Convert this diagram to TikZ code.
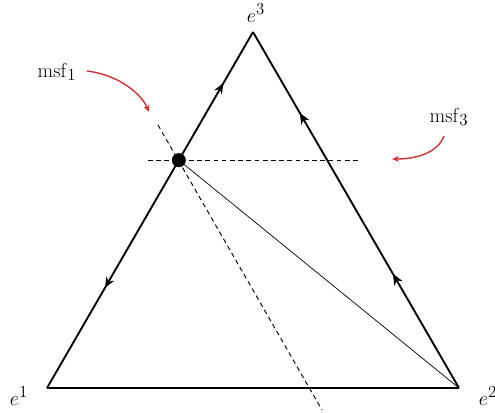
\documentclass[tikz,border=0pt]{standalone}
\usetikzlibrary{arrows.meta,decorations.markings,calc}
\definecolor{msfred}{RGB}{205,50,55}
\begin{document}
\begin{tikzpicture}[x=0.03cm,y=-0.03cm,
  edge/.style={line width=1.6pt},
  midarrow/.style={postaction={decorate},decoration={markings,mark=at position #1 with {\arrow{Stealth[length=9pt,width=7.5pt,inset=3pt]}}}},
  dashline/.style={dashed,dash pattern=on 4pt off 3pt,line width=0.8pt},
  redarrow/.style={msfred,line width=1.2pt,-{Stealth[length=6pt,width=5pt]}},
  lbl/.style={font=\fontsize{19}{23}\selectfont}]
\useasboundingbox (0,0) rectangle (495,413);
\coordinate (e1) at (47,388);
\coordinate (e2) at (459,388);
\coordinate (e3) at (253,32);
\coordinate (p) at ($(e1)!0.64!(e3)$);
\coordinate (h1) at (148,160);
\coordinate (h2) at (358,160);
\coordinate (d1) at (158,125);
\coordinate (d2) at (322,410);
\coordinate (r1s) at (87,71);
\coordinate (r1e) at (149,112);
\coordinate (r3s) at (444,136);
\coordinate (r3e) at (392,159);
\draw[edge] (e1) -- (e2);
\draw[edge,midarrow=0.6] (p) -- (e3);
\draw[edge,midarrow=0.56] (p) -- (e1);
\draw[edge,midarrow=0.32,midarrow=0.772] (e2) -- (e3);
\draw[line width=0.6pt] (p) -- (e2);
\draw[dashline] (h1) -- (h2);
\draw[dashline] (d1) -- (d2);
\fill (p) circle (7);
\node[lbl] (l3) at (256,13) {$e^3$};
\node[lbl] (l1) at (19,396) {$e^1$};
\node[lbl] (l2) at (488,396) {$e^2$};
\node[lbl] (m1) at (57,72) {$\mathrm{msf}_1$};
\node[lbl] (m3) at (449,117) {$\mathrm{msf}_3$};
\draw[redarrow] (r1s) .. controls (120,75) and (142,95) .. (r1e);
\draw[redarrow] (r3s) .. controls (438,152) and (418,159) .. (r3e);
\end{tikzpicture}
\end{document}
